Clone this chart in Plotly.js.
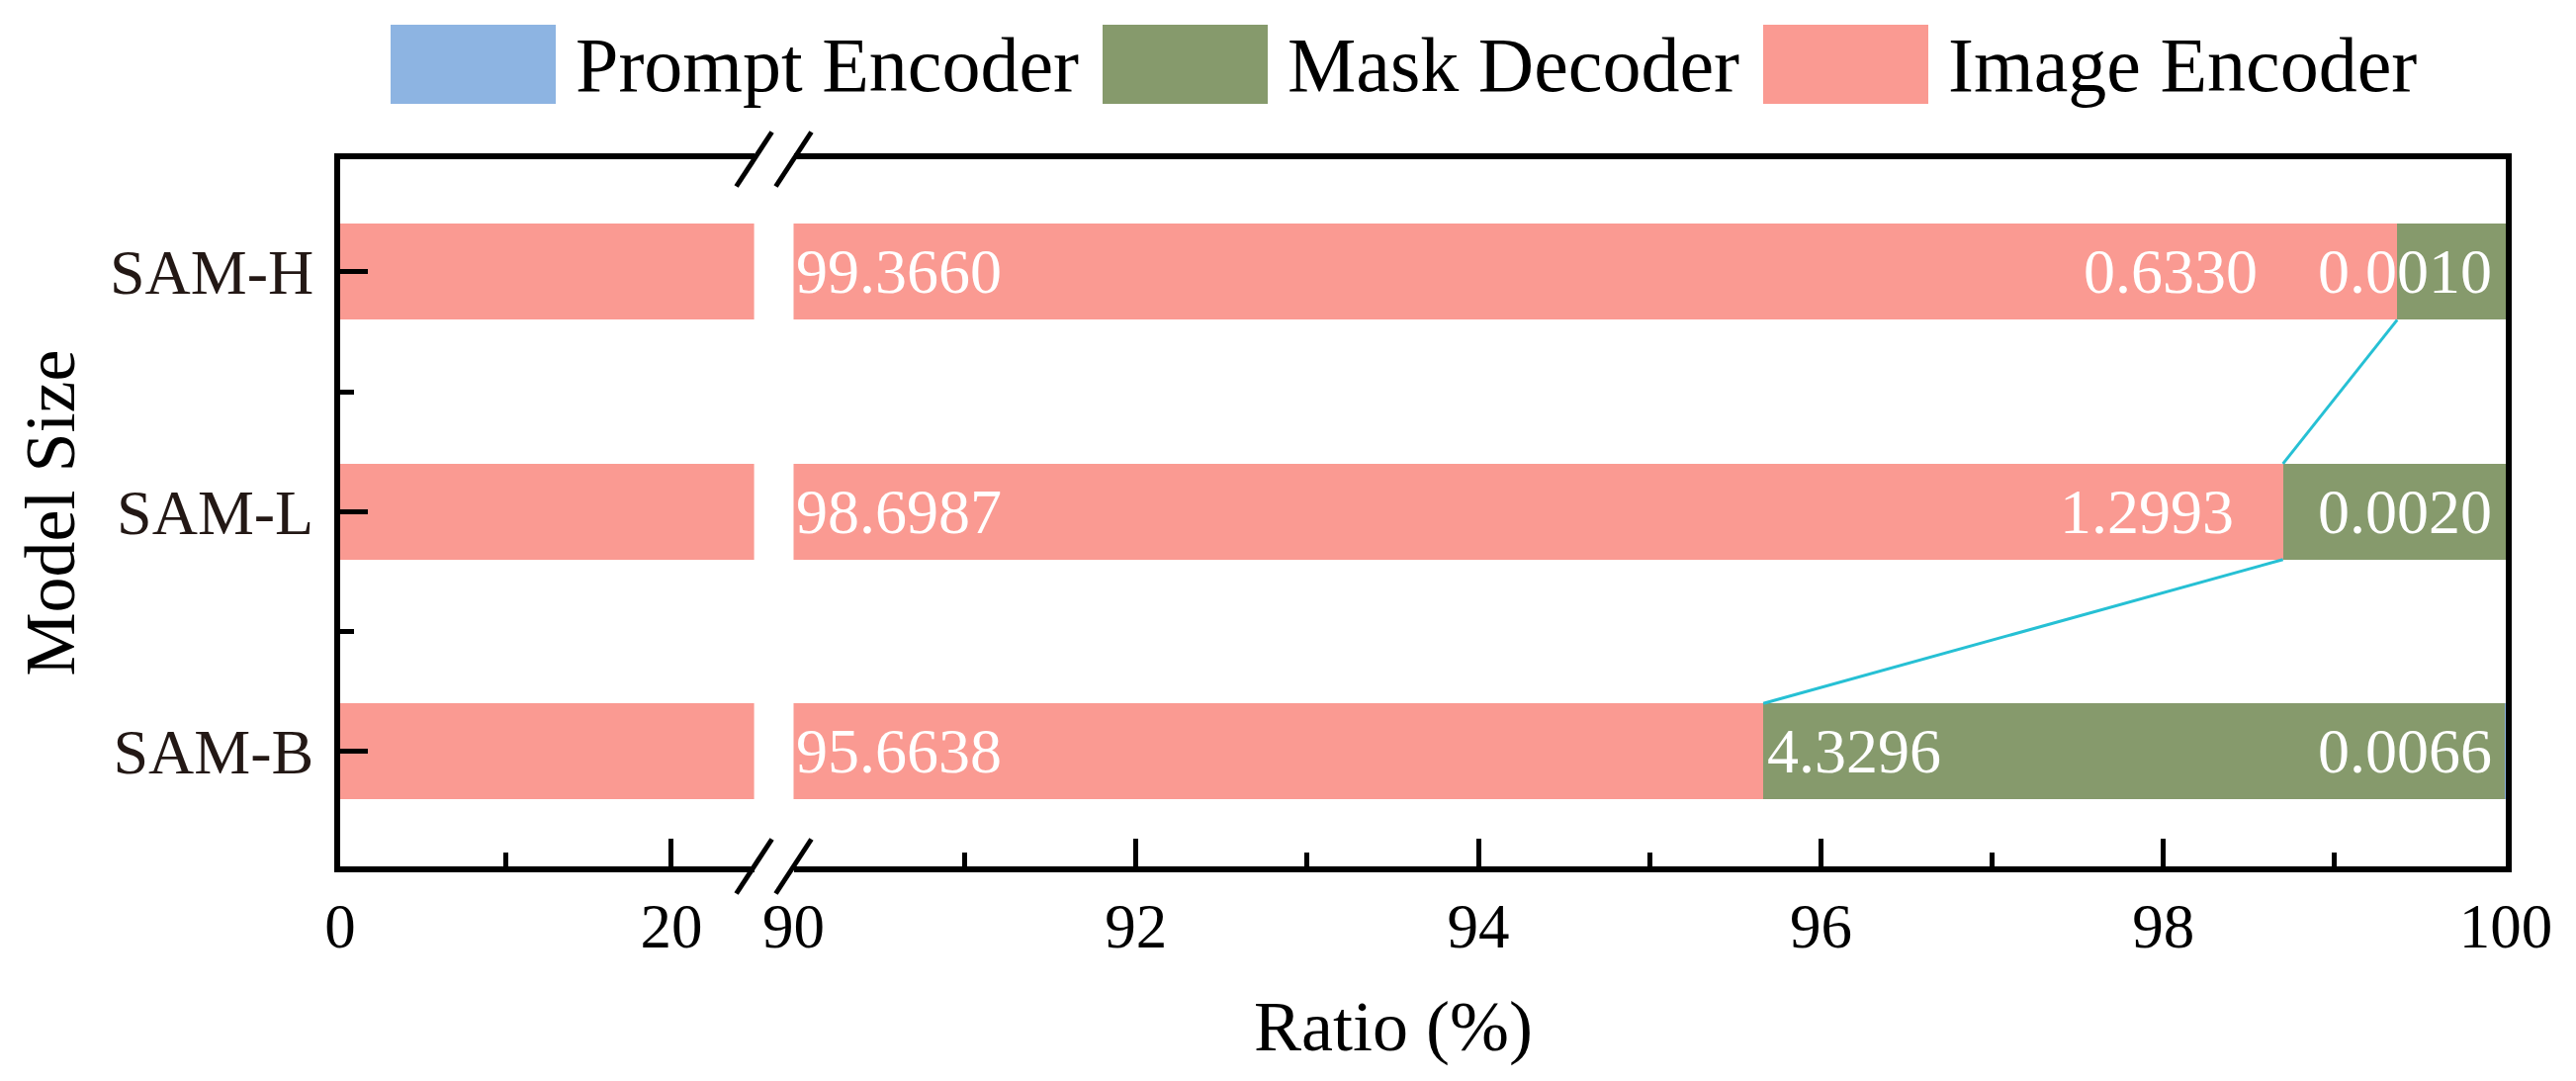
<!DOCTYPE html>
<html>
<head>
<meta charset="utf-8">
<script src="https://cdn.plot.ly/plotly-3.0.1.min.js"></script>
<style>html,body{margin:0;padding:0;background:#fff;}</style>
</head>
<body>
<div id="chart" style="width:2605px;height:1093px;"></div>
<script>
// ---------------- data ----------------
const models = ['SAM-B', 'SAM-L', 'SAM-H'];
const imageEncoder = [95.6638, 98.6987, 99.3660];
const maskDecoder = [4.3296, 1.2993, 0.6330];
const promptEncoder = [0.0066, 0.0020, 0.0010];
const seriesNames = ['Prompt Encoder', 'Mask Decoder', 'Image Encoder'];
const xTicksLeft = [0, 20];
const xMinorLeft = [10];
const xTicksRight = [90, 92, 94, 96, 98, 100];
const xRangeLeft = [0, 25];
const xRangeRight = [90, 100];

// ---------------- styles ----------------
const W = 2605, H = 1093;
const M = {l: 344, r: 71, t: 161, b: 217};
const PW = W - M.l - M.r, PH = H - M.t - M.b;
const px2x = p => (p - M.l) / PW;
const px2y = p => (H - M.b - p) / PH;
const FONT = 'Liberation Serif, Times New Roman, serif';
const colors = {
  'Prompt Encoder': 'rgb(141,180,226)',
  'Mask Decoder': 'rgb(134,154,108)',
  'Image Encoder': 'rgb(250,154,146)'
};
const BARW = 0.4;
const LW = 6;
const TW = 5;
const d1 = px2x(762.6), d2 = px2x(802.5);
const yIdx = models.map((_, i) => i);
const maskShift = [2, -48, -139];
const maskAnchor = ['left', 'right', 'right'];

const traces = [
  {type: 'bar', orientation: 'h', name: 'Image Encoder', x: imageEncoder, y: yIdx,
   xaxis: 'x', yaxis: 'y', width: BARW, marker: {color: colors['Image Encoder']},
   showlegend: false, hoverinfo: 'skip'},
  {type: 'bar', orientation: 'h', name: 'Image Encoder', x: imageEncoder, y: yIdx,
   xaxis: 'x2', yaxis: 'y2', width: BARW, marker: {color: colors['Image Encoder']},
   showlegend: false},
  {type: 'bar', orientation: 'h', name: 'Mask Decoder', x: maskDecoder, y: yIdx,
   xaxis: 'x2', yaxis: 'y2', width: BARW, marker: {color: colors['Mask Decoder']},
   showlegend: false},
  {type: 'bar', orientation: 'h', name: 'Prompt Encoder', x: promptEncoder, y: yIdx,
   xaxis: 'x2', yaxis: 'y2', width: BARW, marker: {color: colors['Prompt Encoder']},
   showlegend: false},
  {type: 'scatter', mode: 'lines',
   x: [imageEncoder[2], imageEncoder[1], null, imageEncoder[1], imageEncoder[0]],
   y: [2 - BARW / 2, 1 + BARW / 2, null, 1 - BARW / 2, 0 + BARW / 2],
   xaxis: 'x2', yaxis: 'y2', line: {color: 'rgb(38,192,212)', width: 3},
   showlegend: false, hoverinfo: 'skip'}
];

const annotations = [];
models.forEach((m, i) => {
  annotations.push({xref: 'x2', yref: 'y2', x: xRangeRight[0], y: i, xanchor: 'left', yanchor: 'middle',
    xshift: 0, text: imageEncoder[i].toFixed(4), showarrow: false,
    font: {family: FONT, size: 64, color: '#ffffff'}});
  annotations.push({xref: 'x2', yref: 'y2', x: imageEncoder[i], y: i, xanchor: maskAnchor[i], yanchor: 'middle',
    xshift: maskShift[i], text: maskDecoder[i].toFixed(4), showarrow: false,
    font: {family: FONT, size: 64, color: '#ffffff'}});
  annotations.push({xref: 'x2', yref: 'y2', x: imageEncoder[i] + maskDecoder[i] + promptEncoder[i], y: i,
    xanchor: 'right', yanchor: 'middle', xshift: -12, text: promptEncoder[i].toFixed(4), showarrow: false,
    font: {family: FONT, size: 64, color: '#ffffff'}});
});
annotations.push({xref: 'paper', yref: 'paper', x: px2x(1409), y: px2y(1038), xanchor: 'center', yanchor: 'middle',
  text: 'Ratio (%)', showarrow: false, font: {family: FONT, size: 72, color: '#000'}});

// manual legend (large swatches)
const legBoxX = [395, 1115, 1783];
const shapes = [];
seriesNames.forEach((s, k) => {
  shapes.push({type: 'rect', xref: 'paper', yref: 'paper', x0: px2x(legBoxX[k]), x1: px2x(legBoxX[k] + 167),
    y0: px2y(105), y1: px2y(25), fillcolor: colors[s], line: {width: 0}});
  annotations.push({xref: 'paper', yref: 'paper', x: px2x(legBoxX[k] + 185), y: px2y(66), xanchor: 'left',
    yanchor: 'middle', text: s, showarrow: false, font: {family: FONT, size: 78, color: '#000'}});
});
// axis break marks
[[d1, 0], [d2, 0], [d1, 1], [d2, 1]].forEach(([xa, ya]) => {
  shapes.push({type: 'line', xref: 'paper', yref: 'paper', xsizemode: 'pixel', ysizemode: 'pixel',
    xanchor: xa, yanchor: ya, x0: -18, x1: 18, y0: -27.5, y1: 27.5, line: {color: '#000', width: 5}});
});

const axBase = {showline: true, linewidth: LW, linecolor: '#000', showgrid: false, zeroline: false,
  ticks: 'inside', ticklen: 28, tickwidth: TW, tickcolor: '#000'};

const layout = {
  width: W, height: H, margin: M, paper_bgcolor: '#fff', plot_bgcolor: '#fff',
  barmode: 'stack', showlegend: false,
  font: {family: FONT, color: '#000'},
  xaxis: Object.assign({}, axBase, {domain: [0, d1], range: xRangeLeft, anchor: 'y', mirror: true,
    tickmode: 'array', tickvals: xTicksLeft,
    minor: {tickmode: 'array', tickvals: xMinorLeft, ticks: 'inside', ticklen: 14, tickwidth: TW, tickcolor: '#000'},
    tickfont: {family: FONT, size: 63, color: '#000'}}),
  xaxis2: Object.assign({}, axBase, {domain: [d2, 1], range: xRangeRight, anchor: 'y2', mirror: true,
    tickmode: 'array', tickvals: xTicksRight,
    minor: {dtick: 1, tick0: 90, ticks: 'inside', ticklen: 14, tickwidth: TW, tickcolor: '#000'},
    tickfont: {family: FONT, size: 63, color: '#000'}}),
  yaxis: Object.assign({}, axBase, {range: [-0.48, 2.47], anchor: 'x', tickmode: 'array', tickvals: yIdx,
    ticktext: models, ticklabelstandoff: 8,
    minor: {tickmode: 'array', tickvals: [0.5, 1.5], ticks: 'inside', ticklen: 14, tickwidth: TW, tickcolor: '#000'},
    tickfont: {family: FONT, size: 64, color: '#231815'},
    title: {text: 'Model Size', font: {family: FONT, size: 72, color: '#000'}, standoff: 14}}),
  yaxis2: {matches: 'y', range: [-0.48, 2.47], anchor: 'x2', side: 'right', showline: true, linewidth: LW,
    linecolor: '#000', showticklabels: false, ticks: '', showgrid: false, zeroline: false},
  shapes: shapes,
  annotations: annotations
};

Plotly.newPlot('chart', traces, layout, {displayModeBar: false, staticPlot: true});
</script>
</body>
</html>
